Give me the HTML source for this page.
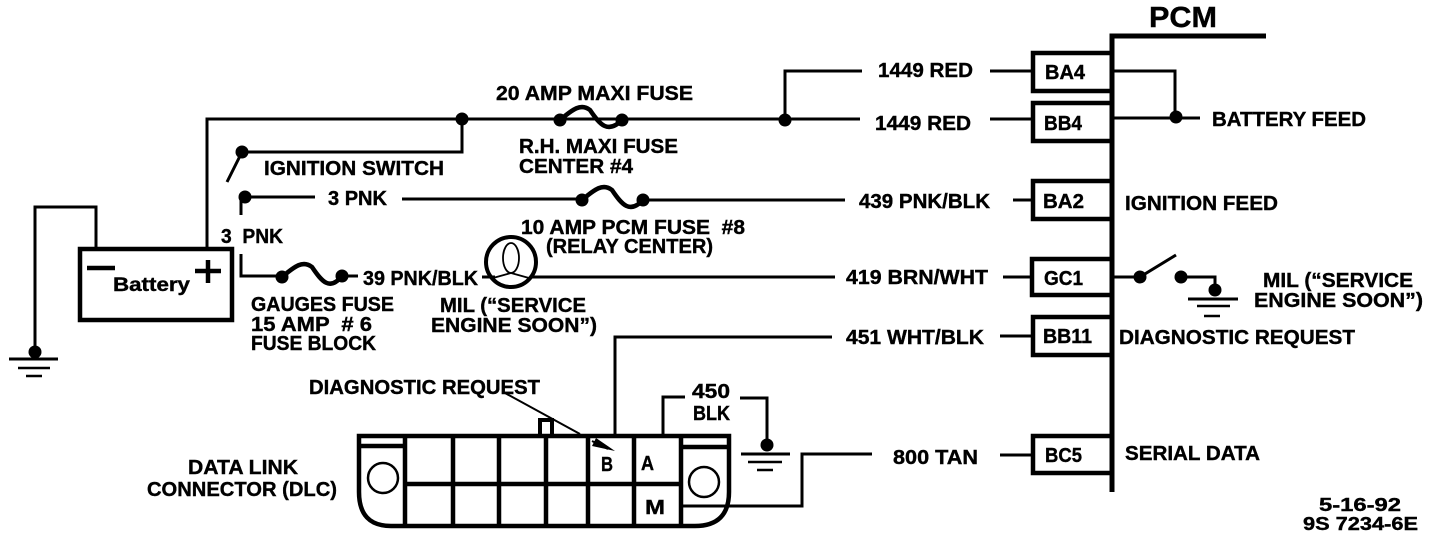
<!DOCTYPE html>
<html><head><meta charset="utf-8"><style>
html,body{margin:0;padding:0;background:#fff;width:1440px;height:538px;overflow:hidden}
svg{display:block}
text{font-family:"Liberation Sans",sans-serif;font-weight:bold;font-size:20.5px;fill:#000;stroke:#000;stroke-width:.4px;white-space:pre}
</style></head><body>
<svg width="1440" height="538" viewBox="0 0 1440 538" xmlns="http://www.w3.org/2000/svg">
<g fill="none" stroke="#000" stroke-width="3">
<!-- main wires -->
<path d="M207 247V119H860"/>
<path d="M462 119V152H242L227 182"/>
<path d="M241 215V197H315M402 199H578M646 200H845"/>
<path d="M241 254V276H280M345 276H358"/>
<path d="M785 120V71H862M990 71H1031M990 119H1031"/>
<path d="M1013 200H1031M1003 277H1031M1000 336H1031M1000 455H1031"/>
<path d="M96 247V207H35V352"/>
<path d="M530 277H835M482 277H495"/>
<path d="M615 436V337H832"/>
<path d="M663 436V397H685M740 398H767V445"/>
<path d="M683 506H802V454H872"/>
<path d="M1114 71H1175V118M1114 118H1200"/>
<path d="M1114 277H1140L1176 255M1181 277H1215V290"/>
<path d="M505 393L580 434M592 441L608 449" stroke-width="2"/>
<!-- fuses -->
<path d="M282 277C295 266 303 260 312 267C322 282 330 291 342 276" stroke-width="4.5"/>
<path d="M560 120C573 109 581 103 590 110C600 125 608 134 622 120" stroke-width="4.5"/>
<path d="M582 200C595 189 603 183 612 190C622 205 630 214 643 200" stroke-width="4.5"/>
<!-- lamp -->
<circle cx="511" cy="262" r="25" stroke-width="4"/>
<ellipse cx="511" cy="258" rx="8" ry="15" stroke-width="1.8"/>
<path d="M511 273L493 278M511 273L529 278" stroke-width="1.8"/>
<!-- battery -->
<rect x="80" y="249" width="152" height="71" stroke-width="4.5"/>
<path d="M87 268H115M195 271H221M208 260V283" stroke-width="4.5"/>
<!-- grounds -->
<path d="M9 359H58M741 454H790M1188 299H1238" stroke-width="3"/>
<path d="M18 368H50M748 462H782M1197 306H1230" stroke-width="2.5"/>
<path d="M26 376H42M757 470H773M1204 316H1220" stroke-width="2.5"/>
<!-- PCM -->
<path d="M1266 36H1112V492" stroke-width="5"/>
<g stroke-width="4.5">
<path d="M1110 53H1033V91H1110"/>
<path d="M1110 103H1033V141H1110"/>
<path d="M1110 181H1033V219H1110"/>
<path d="M1110 259H1032V295H1110"/>
<path d="M1110 317H1033V355H1110"/>
<path d="M1110 436H1033V473H1110"/>
</g>
<!-- DLC -->
<g stroke-width="4.5">
<path d="M359 436H729V492Q729 526 695 526H391Q359 526 359 492Z"/>
<path d="M405 436V526M453 436V526M499 436V526M546 436V526M588 436V526M634 436V526M681 436V526"/>
<path d="M405 484H681M359 446H405M681 447H729"/>
<path d="M540 436V420H552V436" stroke-width="4"/>
</g>
<circle cx="383" cy="478" r="15" stroke-width="2.5"/>
<circle cx="704" cy="482" r="15" stroke-width="2.5"/>
</g>
<g fill="#000" stroke="none">
<circle cx="462" cy="119" r="6.5"/><circle cx="242" cy="152" r="6.5"/><circle cx="245" cy="197" r="6.5"/>
<circle cx="282" cy="277" r="6.5"/><circle cx="342" cy="276" r="6.5"/>
<circle cx="560" cy="120" r="6.5"/><circle cx="622" cy="120" r="6.5"/>
<circle cx="582" cy="200" r="6.5"/><circle cx="643" cy="200" r="6.5"/>
<circle cx="785" cy="120" r="6.5"/><circle cx="35" cy="352" r="6.5"/><circle cx="767" cy="445" r="6.5"/>
<circle cx="1176" cy="117" r="6.5"/><circle cx="1140" cy="277" r="6.5"/><circle cx="1181" cy="277" r="6.5"/><circle cx="1215" cy="290" r="6.5"/>
<path d="M615 451L592 446L596 438Z"/>
</g>
<text x="496" y="100" textLength="197" lengthAdjust="spacingAndGlyphs">20 AMP MAXI FUSE</text>
<text x="264" y="175" textLength="180" lengthAdjust="spacingAndGlyphs">IGNITION SWITCH</text>
<text x="519" y="153" textLength="159" lengthAdjust="spacingAndGlyphs">R.H. MAXI FUSE</text>
<text x="519" y="173" textLength="114" lengthAdjust="spacingAndGlyphs">CENTER #4</text>
<text x="328" y="205" textLength="59" lengthAdjust="spacingAndGlyphs">3 PNK</text>
<text x="221" y="243" textLength="62" lengthAdjust="spacingAndGlyphs">3  PNK</text>
<text x="363" y="285" textLength="115" lengthAdjust="spacingAndGlyphs">39 PNK/BLK</text>
<text x="113" y="291" style="font-size:19px" textLength="77" lengthAdjust="spacingAndGlyphs">Battery</text>
<text x="251" y="311" textLength="143" lengthAdjust="spacingAndGlyphs">GAUGES FUSE</text>
<text x="251" y="331" textLength="121" lengthAdjust="spacingAndGlyphs">15 AMP  # 6</text>
<text x="251" y="350" textLength="125" lengthAdjust="spacingAndGlyphs">FUSE BLOCK</text>
<text x="440" y="312" textLength="146" lengthAdjust="spacingAndGlyphs">MIL (“SERVICE</text>
<text x="431" y="332" textLength="166" lengthAdjust="spacingAndGlyphs">ENGINE SOON”)</text>
<text x="521" y="234" textLength="224" lengthAdjust="spacingAndGlyphs">10 AMP PCM FUSE  #8</text>
<text x="546" y="253" textLength="167" lengthAdjust="spacingAndGlyphs">(RELAY CENTER)</text>
<text x="878" y="77" textLength="95" lengthAdjust="spacingAndGlyphs">1449 RED</text>
<text x="875" y="130" textLength="96" lengthAdjust="spacingAndGlyphs">1449 RED</text>
<text x="859" y="208" textLength="131" lengthAdjust="spacingAndGlyphs">439 PNK/BLK</text>
<text x="846" y="284" textLength="142" lengthAdjust="spacingAndGlyphs">419 BRN/WHT</text>
<text x="846" y="344" textLength="138" lengthAdjust="spacingAndGlyphs">451 WHT/BLK</text>
<text x="893" y="464" textLength="85" lengthAdjust="spacingAndGlyphs">800 TAN</text>
<text x="309" y="394" textLength="231" lengthAdjust="spacingAndGlyphs">DIAGNOSTIC REQUEST</text>
<text x="188" y="474" textLength="110" lengthAdjust="spacingAndGlyphs">DATA LINK</text>
<text x="147" y="496" textLength="190" lengthAdjust="spacingAndGlyphs">CONNECTOR (DLC)</text>
<text x="601" y="471" textLength="12" lengthAdjust="spacingAndGlyphs">B</text>
<text x="641" y="470" textLength="13" lengthAdjust="spacingAndGlyphs">A</text>
<text x="645" y="514" textLength="20" lengthAdjust="spacingAndGlyphs">M</text>
<text x="692" y="398" textLength="38" lengthAdjust="spacingAndGlyphs">450</text>
<text x="693" y="420" textLength="37" lengthAdjust="spacingAndGlyphs">BLK</text>
<text x="1149" y="27" style="font-size:29px" textLength="68" lengthAdjust="spacingAndGlyphs">PCM</text>
<text x="1045" y="79" textLength="40" lengthAdjust="spacingAndGlyphs">BA4</text>
<text x="1044" y="130" textLength="38" lengthAdjust="spacingAndGlyphs">BB4</text>
<text x="1043" y="208" textLength="41" lengthAdjust="spacingAndGlyphs">BA2</text>
<text x="1044" y="285" textLength="39" lengthAdjust="spacingAndGlyphs">GC1</text>
<text x="1043" y="343" textLength="49" lengthAdjust="spacingAndGlyphs">BB11</text>
<text x="1045" y="462" textLength="37" lengthAdjust="spacingAndGlyphs">BC5</text>
<text x="1212" y="126" textLength="154" lengthAdjust="spacingAndGlyphs">BATTERY FEED</text>
<text x="1125" y="210" textLength="153" lengthAdjust="spacingAndGlyphs">IGNITION FEED</text>
<text x="1263" y="287" textLength="150" lengthAdjust="spacingAndGlyphs">MIL (“SERVICE</text>
<text x="1254" y="307" textLength="169" lengthAdjust="spacingAndGlyphs">ENGINE SOON”)</text>
<text x="1119" y="344" textLength="236" lengthAdjust="spacingAndGlyphs">DIAGNOSTIC REQUEST</text>
<text x="1125" y="460" textLength="135" lengthAdjust="spacingAndGlyphs">SERIAL DATA</text>
<text x="1319" y="511" style="font-size:18px" textLength="82" lengthAdjust="spacingAndGlyphs">5-16-92</text>
<text x="1303" y="530" style="font-size:18px" textLength="115" lengthAdjust="spacingAndGlyphs">9S 7234-6E</text>
</svg>
</body></html>
